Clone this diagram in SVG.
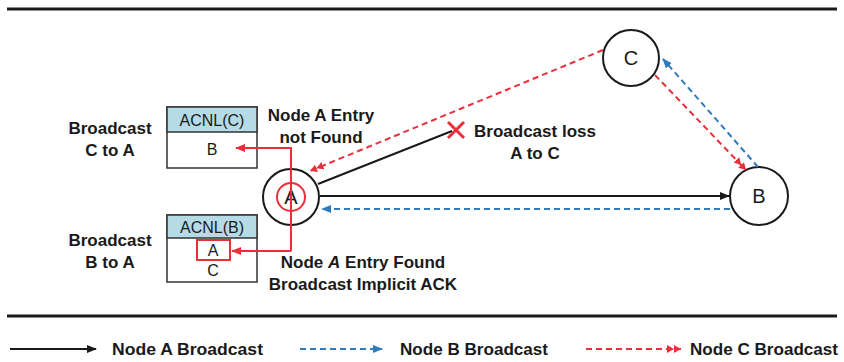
<svg xmlns="http://www.w3.org/2000/svg" width="844" height="362" viewBox="0 0 844 362">
<style>
.lbl{font-family:"Liberation Sans",Arial,sans-serif;font-weight:bold;font-size:17px;fill:#1a1a1a;text-anchor:middle}
.leg{font-family:"Liberation Sans",Arial,sans-serif;font-weight:bold;font-size:17px;fill:#1a1a1a}
.tbl{font-family:"Liberation Sans",Arial,sans-serif;font-size:16px;fill:#1a1a1a;text-anchor:middle}
.node{fill:#fff;stroke:#1a1a1a;stroke-width:2}
.nt{font-family:"Liberation Sans",Arial,sans-serif;font-size:20px;fill:#1a1a1a;text-anchor:middle}
.blk{stroke:#1a1a1a;stroke-width:2;fill:none}
.blue{stroke:#2f7bbd;stroke-width:2;fill:none;stroke-dasharray:6 4}
.red{stroke:#e8303a;stroke-width:2;fill:none;stroke-dasharray:6 4}
.redS{stroke:#e8303a;stroke-width:2;fill:none}
.hdr{fill:#b4dbe6;stroke:#333;stroke-width:1.5}
.body{fill:#fff;stroke:#333;stroke-width:1.5}
</style>
<defs>
<marker id="ab" markerWidth="10" markerHeight="8" refX="9" refY="4" orient="auto" markerUnits="userSpaceOnUse"><path d="M0,0 L10,4 L0,8 Z" fill="#1a1a1a"/></marker>
<marker id="ablue" markerWidth="10" markerHeight="8" refX="9" refY="4" orient="auto" markerUnits="userSpaceOnUse"><path d="M0,0 L10,4 L0,8 Z" fill="#2f7bbd"/></marker>
<marker id="ared" markerWidth="10" markerHeight="8" refX="9" refY="4" orient="auto" markerUnits="userSpaceOnUse"><path d="M0,0 L10,4 L0,8 Z" fill="#e8303a"/></marker>
<marker id="ared2" markerWidth="15" markerHeight="8" refX="14" refY="4" orient="auto" markerUnits="userSpaceOnUse"><path d="M0,0 L7,4 L0,8 Z M7,0 L14,4 L7,8 Z" fill="#e8303a"/></marker>
</defs>
<rect width="844" height="362" fill="#fff"/>
<line x1="7" y1="9" x2="837" y2="9" stroke="#1a1a1a" stroke-width="3"/>
<line x1="7" y1="316" x2="837" y2="316" stroke="#1a1a1a" stroke-width="3"/>

<g id="acnlC">
<rect class="body" x="167" y="107" width="90" height="61"/>
<rect class="hdr" x="167" y="107" width="90" height="25"/>
<text class="tbl" x="212" y="126">ACNL(C)</text>
<text class="tbl" x="212" y="155">B</text>
</g>
<g id="acnlB">
<rect class="body" x="167" y="215" width="90" height="67"/>
<rect class="hdr" x="167" y="215" width="90" height="23"/>
<text class="tbl" x="212" y="233">ACNL(B)</text>
<rect x="197" y="240" width="33" height="20" fill="none" stroke="#e8303a" stroke-width="2"/>
<text class="tbl" x="213" y="256">A</text>
<text class="tbl" x="213" y="276">C</text>
</g>

<g id="nodeA">
<circle class="node" cx="291" cy="197" r="28"/>
<circle cx="291" cy="197" r="14" fill="none" stroke="#e8303a" stroke-width="2"/>
<text class="nt" x="291" y="204" font-size="19">A</text>
</g>
<g id="nodeB">
<circle class="node" cx="759" cy="196" r="29"/>
<text class="nt" x="759" y="203">B</text>
</g>
<g id="nodeC">
<circle class="node" cx="631" cy="58" r="28"/>
<text class="nt" x="631" y="65">C</text>
</g>

<g id="connectors">
<line class="blk" x1="320" y1="196" x2="729" y2="196" marker-end="url(#ab)"/>
<line class="blk" x1="318" y1="184" x2="452" y2="131"/>
<line class="blue" x1="730" y1="209" x2="322" y2="209" marker-end="url(#ablue)"/>
<line class="red" x1="603" y1="50" x2="310" y2="171" marker-end="url(#ared2)"/>
<line class="red" x1="655" y1="75" x2="746" y2="170" marker-end="url(#ared2)"/>
<line class="blue" x1="758" y1="167" x2="663" y2="59" marker-end="url(#ablue)"/>
<polyline class="redS" points="291,251 291,148 236,148" marker-end="url(#ared)"/>
<line class="redS" x1="291" y1="251" x2="232" y2="251" marker-end="url(#ared)"/>
</g>

<g id="loss">
<line x1="448" y1="122" x2="464" y2="138" stroke="#e8303a" stroke-width="3"/>
<line x1="464" y1="122" x2="448" y2="138" stroke="#e8303a" stroke-width="3"/>
<text class="lbl" x="535" y="137">Broadcast loss</text>
<text class="lbl" x="535" y="159">A to C</text>
</g>

<g id="labels">
<text class="lbl" x="110" y="134">Broadcast</text>
<text class="lbl" x="110" y="156">C to A</text>
<text class="lbl" x="110" y="246">Broadcast</text>
<text class="lbl" x="110" y="268">B to A</text>
<text class="lbl" x="321" y="121">Node A Entry</text>
<text class="lbl" x="321" y="143">not Found</text>
<text class="lbl" x="363" y="268">Node <tspan font-style="italic">A</tspan> Entry Found</text>
<text class="lbl" x="363" y="290">Broadcast Implicit ACK</text>
</g>

<g id="legend">
<line class="blk" x1="10" y1="349" x2="96" y2="349" marker-end="url(#ab)"/>
<text class="leg" x="112" y="355" textLength="151" lengthAdjust="spacingAndGlyphs">Node A Broadcast</text>
<line class="blue" x1="300" y1="349" x2="382" y2="349" stroke-dasharray="4 3" marker-end="url(#ablue)"/>
<text class="leg" x="400" y="355" textLength="148" lengthAdjust="spacingAndGlyphs">Node B Broadcast</text>
<line class="red" x1="586" y1="349" x2="681" y2="349" stroke-dasharray="4 3" marker-end="url(#ared2)"/>
<text class="leg" x="690" y="355" textLength="148" lengthAdjust="spacingAndGlyphs">Node C Broadcast</text>
</g>
</svg>
